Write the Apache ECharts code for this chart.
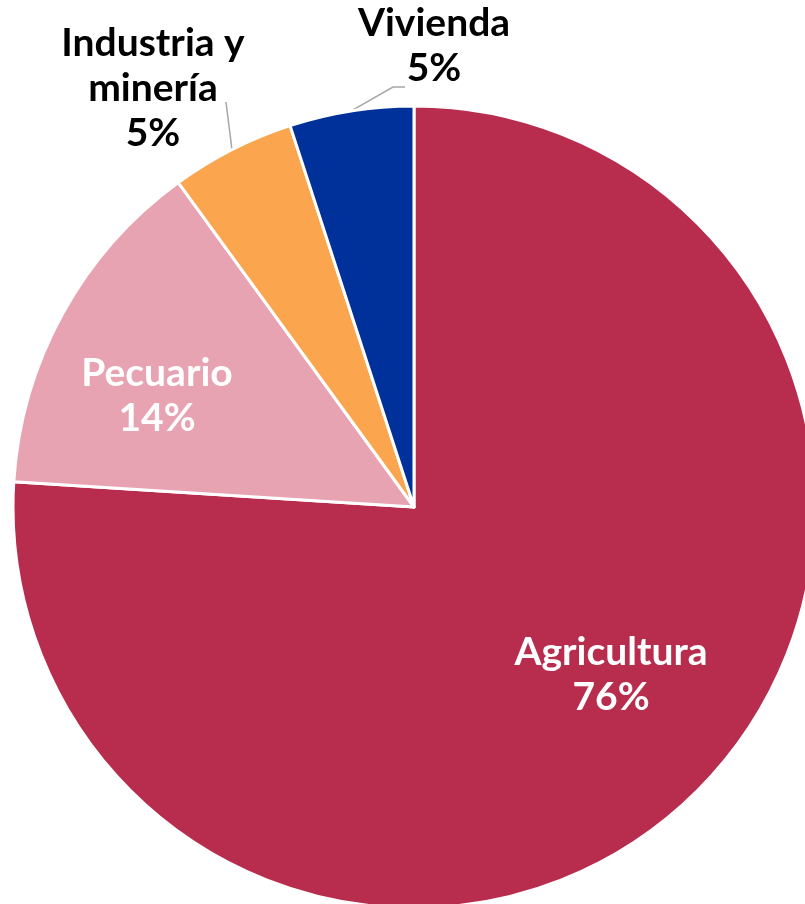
<!DOCTYPE html>
<html>
<head>
<meta charset="utf-8">
<script src="https://cdn.jsdelivr.net/npm/echarts@6/dist/echarts.min.js"></script>
<style>html,body{margin:0;padding:0;background:#fff}#c{width:805px;height:904px}</style>
</head>
<body>
<div id="c"></div>
<script>
// Data
var categories = ['Agricultura', 'Pecuario', 'Industria y minería', 'Vivienda'];
var values = [76, 14, 5, 5];
var labelNames = ['Agricultura', 'Pecuario', 'Industria y\nminería', 'Vivienda'];

// Styling (not data)
var colors = ['#B82D4E', '#E8A3B3', '#FBA54F', '#00309A'];
var labelInside = [true, true, false, false];
var labelCenters = [[611, 675], [157, 396], [153, 88], [434, 46]];
var lineBends = [null, null, [[226, 102]], [[393, 87], [405, 87]]];

var chart = echarts.init(document.getElementById('c'), null, {renderer: 'canvas'});
var data = categories.map(function (c, i) {
  return {
    name: c,
    value: values[i],
    itemStyle: {color: colors[i]},
    label: {
      position: labelInside[i] ? 'inside' : 'outside',
      color: labelInside[i] ? '#ffffff' : '#000000'
    },
    labelLine: {show: !labelInside[i]}
  };
});

chart.setOption({
  animation: false,
  backgroundColor: '#ffffff',
  series: [{
    type: 'pie',
    center: [414, 507],
    radius: [0, 401],
    startAngle: 90,
    clockwise: true,
    avoidLabelOverlap: false,
    itemStyle: {borderColor: '#ffffff', borderWidth: 3},
    label: {
      fontFamily: 'Lato',
      fontWeight: 'bold',
      fontSize: 39,
      lineHeight: 45,
      align: 'center',
      formatter: function (p) {
        return labelNames[p.dataIndex] + '\n' + Math.round(p.percent) + '%';
      }
    },
    labelLine: {lineStyle: {color: '#A6A6A6', width: 1.5}},
    labelLayout: function (p) {
      var i = p.dataIndex;
      var out = {
        x: labelCenters[i][0],
        y: labelCenters[i][1],
        align: 'center',
        verticalAlign: 'middle'
      };
      if (lineBends[i] && p.labelLinePoints) {
        out.labelLinePoints = [p.labelLinePoints[0]].concat(lineBends[i]);
        if (out.labelLinePoints.length < 3) out.labelLinePoints.push(lineBends[i][lineBends[i].length - 1]);
      }
      return out;
    },
    data: data
  }]
});
</script>
</body>
</html>
